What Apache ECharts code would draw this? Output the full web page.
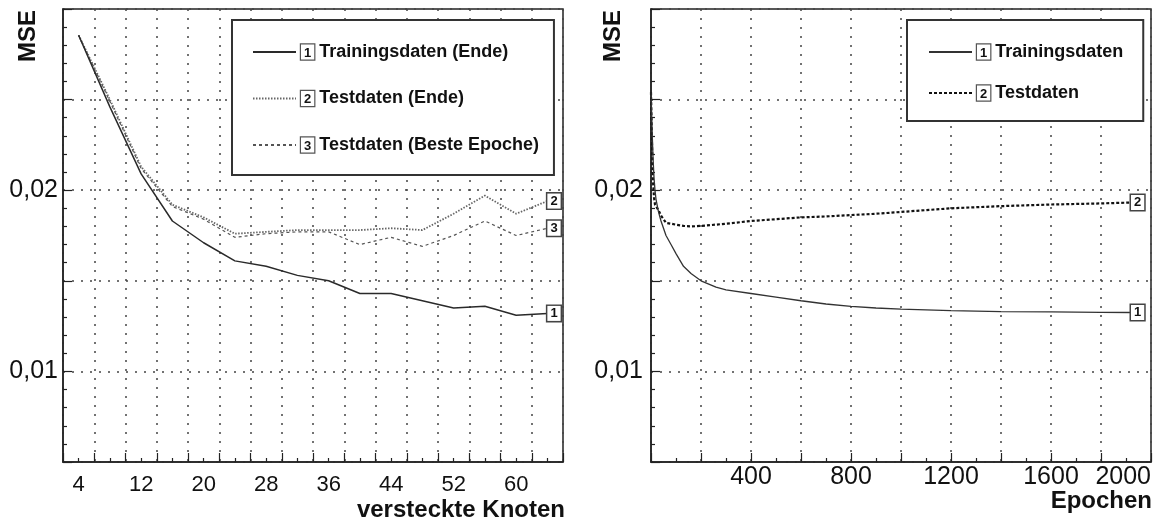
<!DOCTYPE html>
<html>
<head>
<meta charset="utf-8">
<title>MSE</title>
<script src="https://cdn.jsdelivr.net/npm/echarts@6/dist/echarts.min.js"></script>
<style>
    html, body { margin: 0; padding: 0; background: #fff; }
    #chart { width: 1171px; height: 525px; }
</style>
</head>
<body>
<div id="chart"></div>
<script>
// linke Grafik: MSE ueber Anzahl versteckter Knoten
var knoten = [4, 8, 12, 16, 20, 24, 28, 32, 36, 40, 44, 48, 52, 56, 60, 64];
var trainEnde = [0.02855, 0.0246, 0.0209, 0.0183, 0.0171, 0.0161, 0.0158, 0.0153, 0.0150, 0.0143, 0.0143, 0.0139, 0.0135, 0.0136, 0.0131, 0.0132];
var testEnde = [0.02855, 0.0250, 0.0213, 0.0192, 0.0185, 0.0176, 0.0177, 0.0178, 0.0178, 0.0178, 0.0179, 0.0178, 0.0187, 0.0197, 0.0187, 0.0194];
var testBeste = [0.02855, 0.0249, 0.0212, 0.0191, 0.0184, 0.0174, 0.0176, 0.0177, 0.0177, 0.0170, 0.0174, 0.0169, 0.0175, 0.0183, 0.0175, 0.0179];

// rechte Grafik: MSE ueber Epochen
var epochen = [0, 4, 8, 12, 16, 20, 30, 40, 50, 60, 80, 100, 130, 160, 200, 260, 300, 400, 500, 600, 700, 800, 900, 1000, 1200, 1400, 1600, 1800, 1920];
var trainEpoche = [0.0254, 0.0235, 0.0218, 0.0207, 0.0200, 0.0195, 0.0188, 0.0183, 0.0179, 0.0175, 0.0170, 0.0165, 0.0158, 0.0154, 0.0150, 0.01465, 0.0145, 0.0143, 0.0141, 0.0139, 0.01372, 0.01359, 0.0135, 0.01344, 0.01335, 0.0133, 0.01328, 0.01326, 0.01325];
var testEpoche = [0.0254, 0.0225, 0.0205, 0.0196, 0.0192, 0.0191, 0.0189, 0.0186, 0.0184, 0.0182, 0.01815, 0.0181, 0.01803, 0.0180, 0.01803, 0.0181, 0.01815, 0.0183, 0.0184, 0.0185, 0.01855, 0.01863, 0.0187, 0.0188, 0.0190, 0.01912, 0.01921, 0.01927, 0.01932];

// Achsenbeschriftungen
var knotenLabels = [4, 12, 20, 28, 36, 44, 52, 60];
var epochenLabels = [400, 800, 1200, 1600, 2000];
var mseTicks = [10, 20];            // in 1/1000
var mseTickText = ['0,01', '0,02'];

var namesLinks = ['Trainingsdaten (Ende)', 'Testdaten (Ende)', 'Testdaten (Beste Epoche)'];
var namesRechts = ['Trainingsdaten', 'Testdaten'];

(function () {
    var FONT = '"Liberation Sans", Arial, sans-serif';
    var INK = '#111';
    var dotted = { color: '#444', width: 1.5, type: [2, 7] };

    function pairs(xs, ys) {
        return xs.map(function (x, i) { return [x, ys[i]]; });
    }

    function mseLabel(v) {
        var i = mseTicks.indexOf(Math.round(v * 1000));
        return i >= 0 ? mseTickText[i] : '';
    }

    function endBox(num) {
        return {
            show: true,
            formatter: String(num),
            distance: 0,
            fontFamily: FONT,
            fontSize: 13,
            fontWeight: 'bold',
            color: INK,
            backgroundColor: '#fff',
            borderColor: '#444',
            borderWidth: 1.5,
            padding: [2, 3, 0, 3]
        };
    }

    function legendFor(names, left, gap, padding) {
        return {
            data: names,
            orient: 'vertical',
            left: left,
            top: 20,
            itemWidth: 43,
            itemHeight: 14,
            itemGap: gap,
            padding: padding,
            backgroundColor: '#fff',
            borderColor: '#333',
            borderWidth: 2,
            borderRadius: 0,
            selectedMode: false,
            itemStyle: { opacity: 0, borderWidth: 0 },
            formatter: function (name) {
                return '{n|' + (names.indexOf(name) + 1) + '}{t|' + name + '}';
            },
            textStyle: {
                lineHeight: 20,
                rich: {
                    n: {
                        fontFamily: FONT, fontSize: 13, fontWeight: 'bold', color: INK,
                        borderColor: '#555', borderWidth: 1.2, backgroundColor: '#fff',
                        padding: [2, 3, 0, 3], lineHeight: 15
                    },
                    t: {
                        fontFamily: FONT, fontSize: 18, fontWeight: 'bold', color: INK,
                        padding: [0, 0, 0, 5], lineHeight: 20
                    }
                }
            }
        };
    }

    function yAxisFor(grid, margin) {
        return {
            gridIndex: grid,
            type: 'value',
            min: 0.005,
            max: 0.03,
            interval: 0.005,
            axisLine: { show: true, lineStyle: { color: '#222', width: 1.5 } },
            axisTick: { show: true, inside: true, length: 9, lineStyle: { color: '#222', width: 1.2 } },
            minorTick: { show: true, splitNumber: 5, length: 4, lineStyle: { color: '#222', width: 1.2 } },
            splitLine: { show: true, lineStyle: dotted },
            axisLabel: {
                fontFamily: FONT, fontSize: 25, color: INK, margin: margin,
                formatter: mseLabel
            }
        };
    }

    function initial() {
        loadChart();
    }

    function loadChart() {
        var chartDom = document.getElementById('chart');
        var myChart = echarts.init(chartDom, null, { renderer: 'canvas' });
        var option;

        option = {
            animation: false,
            backgroundColor: '#fff',
            grid: [
                { left: 63, top: 9, width: 500, height: 453, show: true, borderColor: '#222', borderWidth: 1.5, outerBoundsMode: 'none' },
                { left: 651, top: 9, width: 500, height: 453, show: true, borderColor: '#222', borderWidth: 1.5, outerBoundsMode: 'none' }
            ],
            xAxis: [
                {
                    // Datenachse links, nur Beschriftung
                    gridIndex: 0, type: 'value', min: 2, max: 66, interval: 2, position: 'bottom',
                    axisLine: { show: true, lineStyle: { color: '#222', width: 1.5 } },
                    axisTick: { show: false },
                    splitLine: { show: false },
                    axisLabel: {
                        fontFamily: FONT, fontSize: 22, color: INK, margin: 12,
                        formatter: function (v) { return knotenLabels.indexOf(v) >= 0 ? String(v) : ''; }
                    }
                },
                {
                    // Gitter links: um 2 verschoben, damit min ein Vielfaches von 4 ist
                    gridIndex: 0, type: 'value', min: 0, max: 64, interval: 4, position: 'bottom',
                    axisLine: { show: false },
                    axisLabel: { show: false },
                    axisTick: { show: true, inside: true, length: 9, lineStyle: { color: '#222', width: 1.2 } },
                    minorTick: { show: true, splitNumber: 2, length: 4, lineStyle: { color: '#222', width: 1.2 } },
                    splitLine: { show: true, lineStyle: dotted }
                },
                {
                    gridIndex: 1, type: 'value', min: 0, max: 2000, interval: 200, position: 'bottom',
                    axisLine: { show: true, lineStyle: { color: '#222', width: 1.5 } },
                    axisTick: { show: true, inside: true, length: 9, lineStyle: { color: '#222', width: 1.2 } },
                    minorTick: { show: true, splitNumber: 2, length: 4, lineStyle: { color: '#222', width: 1.2 } },
                    splitLine: { show: true, lineStyle: dotted },
                    axisLabel: {
                        fontFamily: FONT, fontSize: 25, color: INK, margin: 3, alignMaxLabel: 'right',
                        formatter: function (v) { return epochenLabels.indexOf(v) >= 0 ? String(v) : ''; }
                    }
                }
            ],
            yAxis: [yAxisFor(0, 5), yAxisFor(1, 8)],
            legend: [
                legendFor(namesLinks, 232, 26.5, [22, 15, 20, 20]),
                legendFor(namesRechts, 907, 21, [22, 20, 18, 21])
            ],
            graphic: [
                { type: 'text', x: 28, y: 36, rotation: Math.PI / 2, style: { text: 'MSE', font: 'bold 24px ' + FONT, fill: INK, align: 'center', verticalAlign: 'middle' } },
                { type: 'text', x: 613, y: 36, rotation: Math.PI / 2, style: { text: 'MSE', font: 'bold 24px ' + FONT, fill: INK, align: 'center', verticalAlign: 'middle' } },
                { type: 'text', x: 565, y: 510, style: { text: 'versteckte Knoten', font: 'bold 24px ' + FONT, fill: INK, align: 'right', verticalAlign: 'middle' } },
                { type: 'text', x: 1152, y: 501, style: { text: 'Epochen', font: 'bold 24px ' + FONT, fill: INK, align: 'right', verticalAlign: 'middle' } }
            ],
            series: [
                {
                    name: namesLinks[0], type: 'line', xAxisIndex: 0, yAxisIndex: 0,
                    data: pairs(knoten, trainEnde), symbol: 'none', z: 5,
                    lineStyle: { color: '#2a2a2a', width: 1.5 },
                    endLabel: endBox(1)
                },
                {
                    name: namesLinks[1], type: 'line', xAxisIndex: 0, yAxisIndex: 0,
                    data: pairs(knoten, testEnde), symbol: 'none', z: 4,
                    lineStyle: { color: '#666', width: 1.8, type: [1.5, 1.5] },
                    endLabel: endBox(2)
                },
                {
                    name: namesLinks[2], type: 'line', xAxisIndex: 0, yAxisIndex: 0,
                    data: pairs(knoten, testBeste), symbol: 'none', z: 3,
                    lineStyle: { color: '#555', width: 1.2, type: [3, 3] },
                    endLabel: endBox(3)
                },
                {
                    name: namesRechts[0], type: 'line', xAxisIndex: 2, yAxisIndex: 1,
                    data: pairs(epochen, trainEpoche), symbol: 'none', z: 5,
                    lineStyle: { color: '#333', width: 1.3 },
                    endLabel: endBox(1)
                },
                {
                    name: namesRechts[1], type: 'line', xAxisIndex: 2, yAxisIndex: 1,
                    data: pairs(epochen, testEpoche), symbol: 'none', z: 4,
                    lineStyle: { color: '#111', width: 2.2, type: [3, 2] },
                    endLabel: endBox(2)
                }
            ]
        };

        option && myChart.setOption(option);
    }

    document.addEventListener('DOMContentLoaded', function () {
        initial();
    });
})();
</script>
</body>
</html>
